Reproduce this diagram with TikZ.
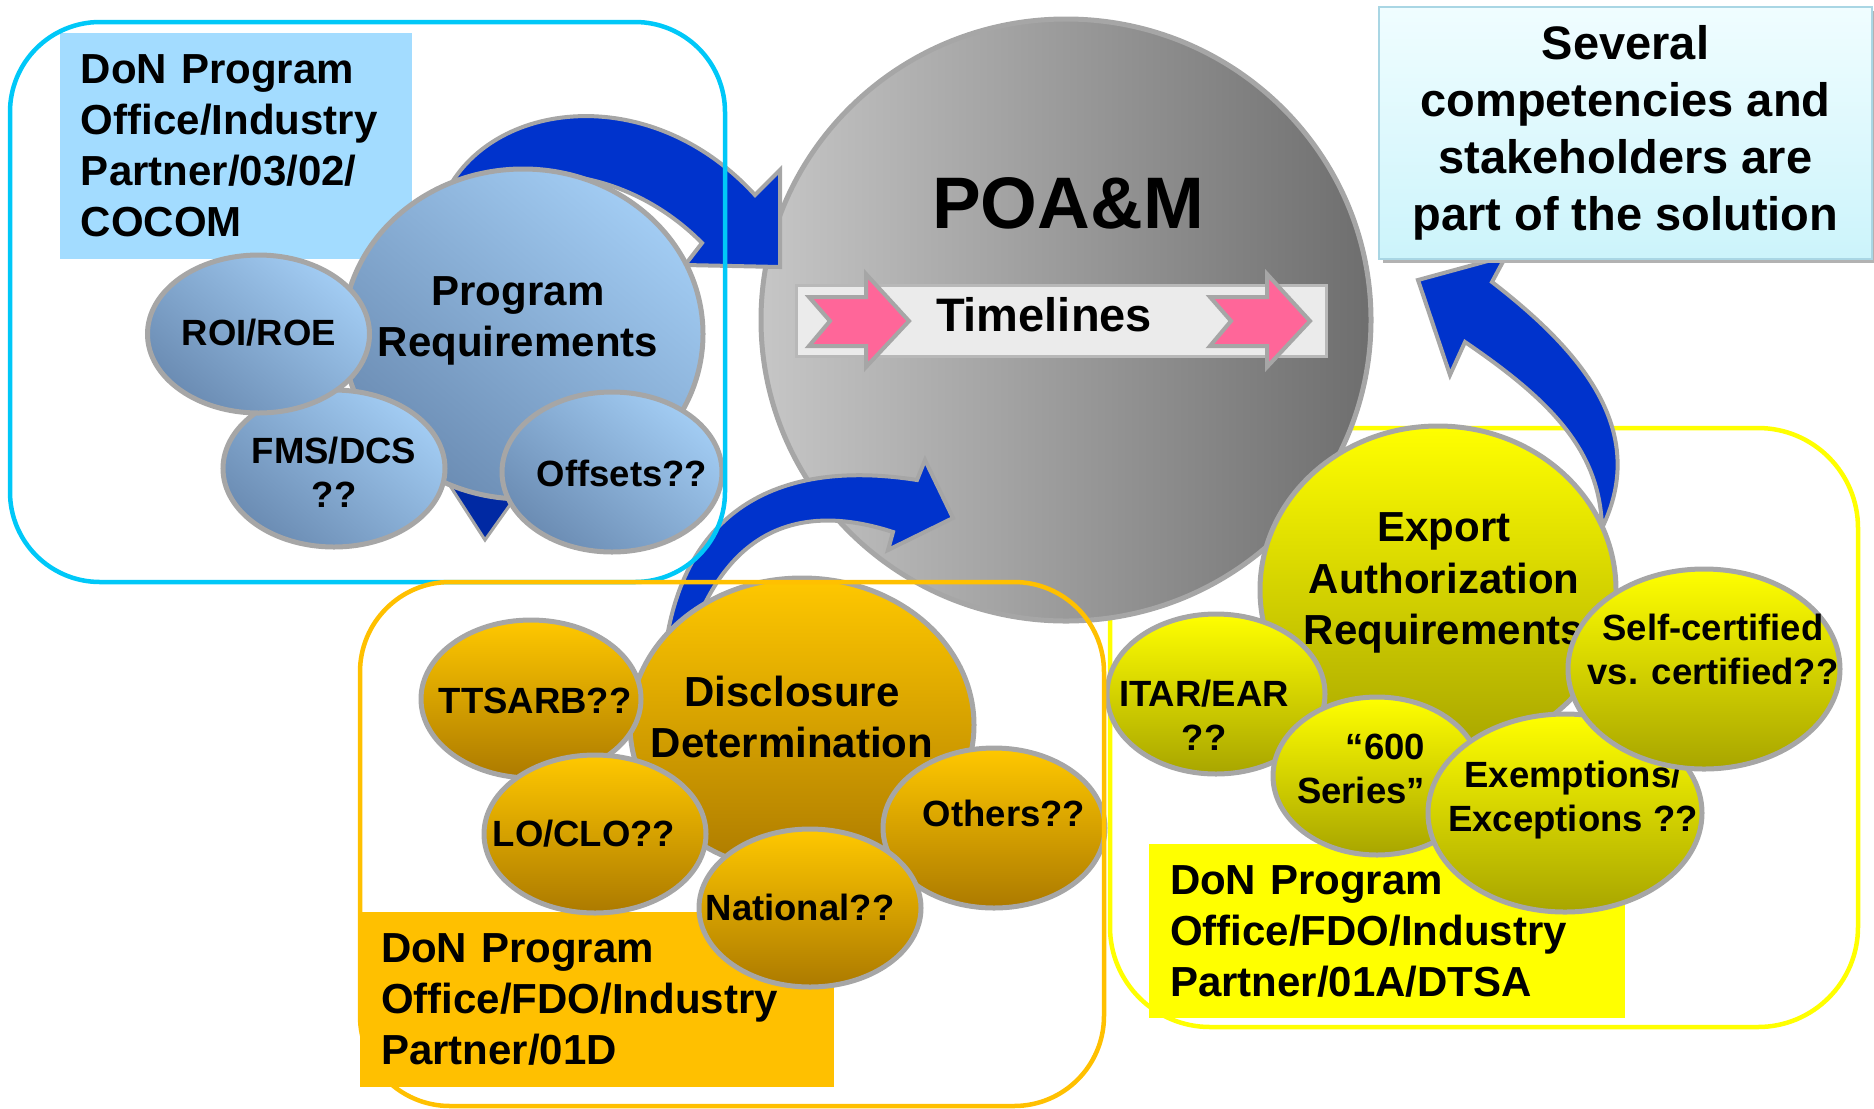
\documentclass[tikz,border=0pt]{standalone}
\usepackage{fontspec}
\setmainfont{Liberation Sans}
\usetikzlibrary{shapes.geometric}

\definecolor{rimgray}{HTML}{A6A6A6}
\definecolor{arrowblue}{HTML}{0033CC}
\definecolor{darkblue}{HTML}{0029A3}
\definecolor{bluetop}{HTML}{A2CCF3}
\definecolor{bluebot}{HTML}{6B8CB3}
\definecolor{orangetop}{HTML}{FFC800}
\definecolor{orangebot}{HTML}{AC7A00}
\definecolor{yellowtop}{HTML}{FFFF00}
\definecolor{yellowbot}{HTML}{A8A500}
\definecolor{circlelight}{HTML}{C6C6C6}
\definecolor{circledark}{HTML}{6E6E6E}
\definecolor{cyanline}{HTML}{00C8F8}
\definecolor{orangeline}{HTML}{FFC000}
\definecolor{yellowline}{HTML}{FFFF00}
\definecolor{bluelab}{HTML}{A3DCFF}
\definecolor{notetop}{HTML}{F0FDFF}
\definecolor{notebot}{HTML}{CCF4FB}
\definecolor{noteline}{HTML}{A9D6E4}
\definecolor{pinkarrow}{HTML}{FF6699}
\definecolor{barfill}{HTML}{EBEBEB}

\tikzset{every picture/.style={line width=0.75pt}}
\tikzset{
  bub/.style 2 args={ellipse, draw=rimgray, line width=2pt, inner sep=0pt, minimum width=#1*0.8pt, minimum height=#2*0.8pt},
  bluebub/.style 2 args={bub={#1}{#2}, top color=bluetop, bottom color=bluebot, shading angle=-40},
  orangebub/.style 2 args={bub={#1}{#2}, top color=orangetop, bottom color=orangebot},
  yellowbub/.style 2 args={bub={#1}{#2}, top color=yellowtop, bottom color=yellowbot},
  bigtxt/.style={inner sep=0pt, align=center, font=\bfseries\fontsize{16.8}{20.6}\selectfont},
  smalltxt/.style={inner sep=0pt, align=center, font=\bfseries\fontsize{14.6}{17.6}\selectfont},
  labbox/.style={inner xsep=8.4pt, inner ysep=0pt, align=left, font=\bfseries\fontsize{16.8}{20.4}\selectfont},
  groupbox/.style={line width=1.8pt, rounded corners=36pt},
  fatarrow/.style={fill=arrowblue, draw=rimgray, line width=1.6pt},
  chevron/.style={fill=pinkarrow, draw=rimgray, line width=1.6pt}
}

\begin{document}
\begin{tikzpicture}[x=0.4pt,y=0.4pt,yscale=-1]
\useasboundingbox (0,0) rectangle (1874,1108);

%Rounded Rect: export group
\draw[groupbox, draw=yellowline, rounded corners=40pt] (1110,428) rectangle (1858,1027);

%Ellipse: POA&M
\node[bub={305}{301}, left color=circlelight, right color=circledark] (poam) at (1066,320) {};
\node[anchor=base, inner sep=0pt, font=\bfseries\fontsize{29.2}{35}\selectfont] (poamT) at (1068,228) {POA\&M};

%Timelines bar
\node[rectangle, fill=barfill, draw=rimgray!80, line width=1.2pt, minimum width=212pt, minimum height=28.4pt] (tbar) at (1061,320.5) {};
\foreach \dx in {0,401}
  \draw[chevron, shift={(\dx,0)}] (809,297) -- (866,297) -- (866,274) -- (909,321) -- (866,367) -- (866,346) -- (809,346) -- (830,321) -- cycle;
\node[anchor=base, inner sep=0pt, font=\bfseries\fontsize{18.8}{22.8}\selectfont] (tline) at (1044,331) {Timelines};

%Curved Arrow: export to note
\draw[fatarrow] (1465,342) -- (1450,375) -- (1418,280) -- (1506,256) -- (1492,282)
  .. controls (1580,350) and (1650,430) .. (1602,528)
  .. controls (1600,450) and (1550,400) .. (1465,342) -- cycle;

%Note box
\fill[black!30] (1383,11) rectangle (1874,263);
\node[draw=noteline, line width=1pt, top color=notetop, bottom color=notebot, minimum width=197.2pt, minimum height=100.8pt, inner sep=0pt, align=center, font=\bfseries\fontsize{18.8}{22.8}\selectfont] (note) at (1625.5,133) {Several\\competencies and\\stakeholders are\\part of the solution};

%Curved Arrow: requirements to POA&M
\draw[fatarrow] (445,195) .. controls (490,100) and (650,80) .. (755,195) -- (780,170) -- (780,267) -- (685,265) -- (702,243)
  .. controls (640,180) and (540,150) .. (455,200) -- cycle;

%Curved Arrow: disclosure to POA&M
\draw[fatarrow] (665,650) .. controls (685,500) and (790,460) .. (917,480) -- (925,460) -- (953,518) -- (888,550) -- (893,532)
  .. controls (810,505) and (730,520) .. (690,640) -- cycle;

%Labels
\node[labbox, fill=bluelab, text width=124pt, minimum height=90.4pt] (progLab) at (236,146) {DoN Program\\Office/Industry\\Partner/03/02/\\COCOM};
\node[labbox, fill=orangeline, text width=172.8pt, minimum height=70pt] (discLab) at (597,999.5) {DoN Program\\Office/FDO/Industry\\Partner/01D};
\node[labbox, fill=yellowline, text width=173.6pt, minimum height=69.6pt] (expLab) at (1387,931) {DoN Program\\Office/FDO/Industry\\Partner/01A/DTSA};

%Triangle
\draw[fill=darkblue, draw=rimgray, line width=1.2pt] (445,478) -- (485,540) -- (522,488) -- (485,460) -- cycle;

%Blue bubbles
\node[bluebub={180}{165}] (req) at (523,334) {};
\node[bigtxt] (reqT) at (518,321) {Program\\Requirements};
\node[bluebub={111}{78.5}] (fms) at (334,468.5) {};
\node[smalltxt] (fmsT) at (334,472) {FMS/DCS\\??};
\node[bluebub={111}{79}] (roi) at (258.5,334) {};
\node[smalltxt] (roiT) at (259,333) {ROI/ROE};
\node[bluebub={110}{80}] (off) at (612,472) {};
\node[smalltxt] (offT) at (622,473) {Offsets??};

%Orange bubbles
\node[orangebub={172}{147}] (disc) at (802,725) {};
\node[bigtxt] (discT) at (792,717) {Disclosure\\Determination};
\node[orangebub={110}{79}] (tts) at (531,699) {};
\node[smalltxt] (ttsT) at (535,701) {TTSARB??};
\node[orangebub={111}{80}] (oth) at (994,828) {};
\node[smalltxt] (othT) at (1004,813) {Others??};
\node[orangebub={111}{79}] (loc) at (595,834) {};
\node[smalltxt] (locT) at (584,834) {LO/CLO??};
\node[orangebub={111}{79}] (nat) at (810,908) {};
\node[smalltxt] (natT) at (800,907) {National??};

%Yellow bubbles
\node[yellowbub={178}{164}] (exp) at (1438,590) {};
\node[bigtxt] (expT) at (1444,583) {Export\\Authorization\\Requirements};
\node[yellowbub={109}{80}] (itar) at (1216,694) {};
\node[smalltxt] (itarT) at (1204,715) {ITAR/EAR\\??};
\node[yellowbub={104}{79}] (six) at (1377,776) {};
\node[smalltxt, align=right] (sixT) at (1361,769) {“600\\Series”};
\node[yellowbub={137}{99}] (exm) at (1565,813) {};
\node[smalltxt] (exmT) at (1573,800) {Exemptions/\\Exceptions ??};
\node[yellowbub={136}{100}] (self) at (1704,669) {};
\node[smalltxt] (selfT) at (1713,649) {Self-certified\\vs. certified??};

%Rounded Rect: program and disclosure groups
\draw[groupbox, draw=cyanline] (10,22) rectangle (725,582);
\draw[groupbox, draw=orangeline] (360,582) rectangle (1104,1106);
\end{tikzpicture}
\end{document}
